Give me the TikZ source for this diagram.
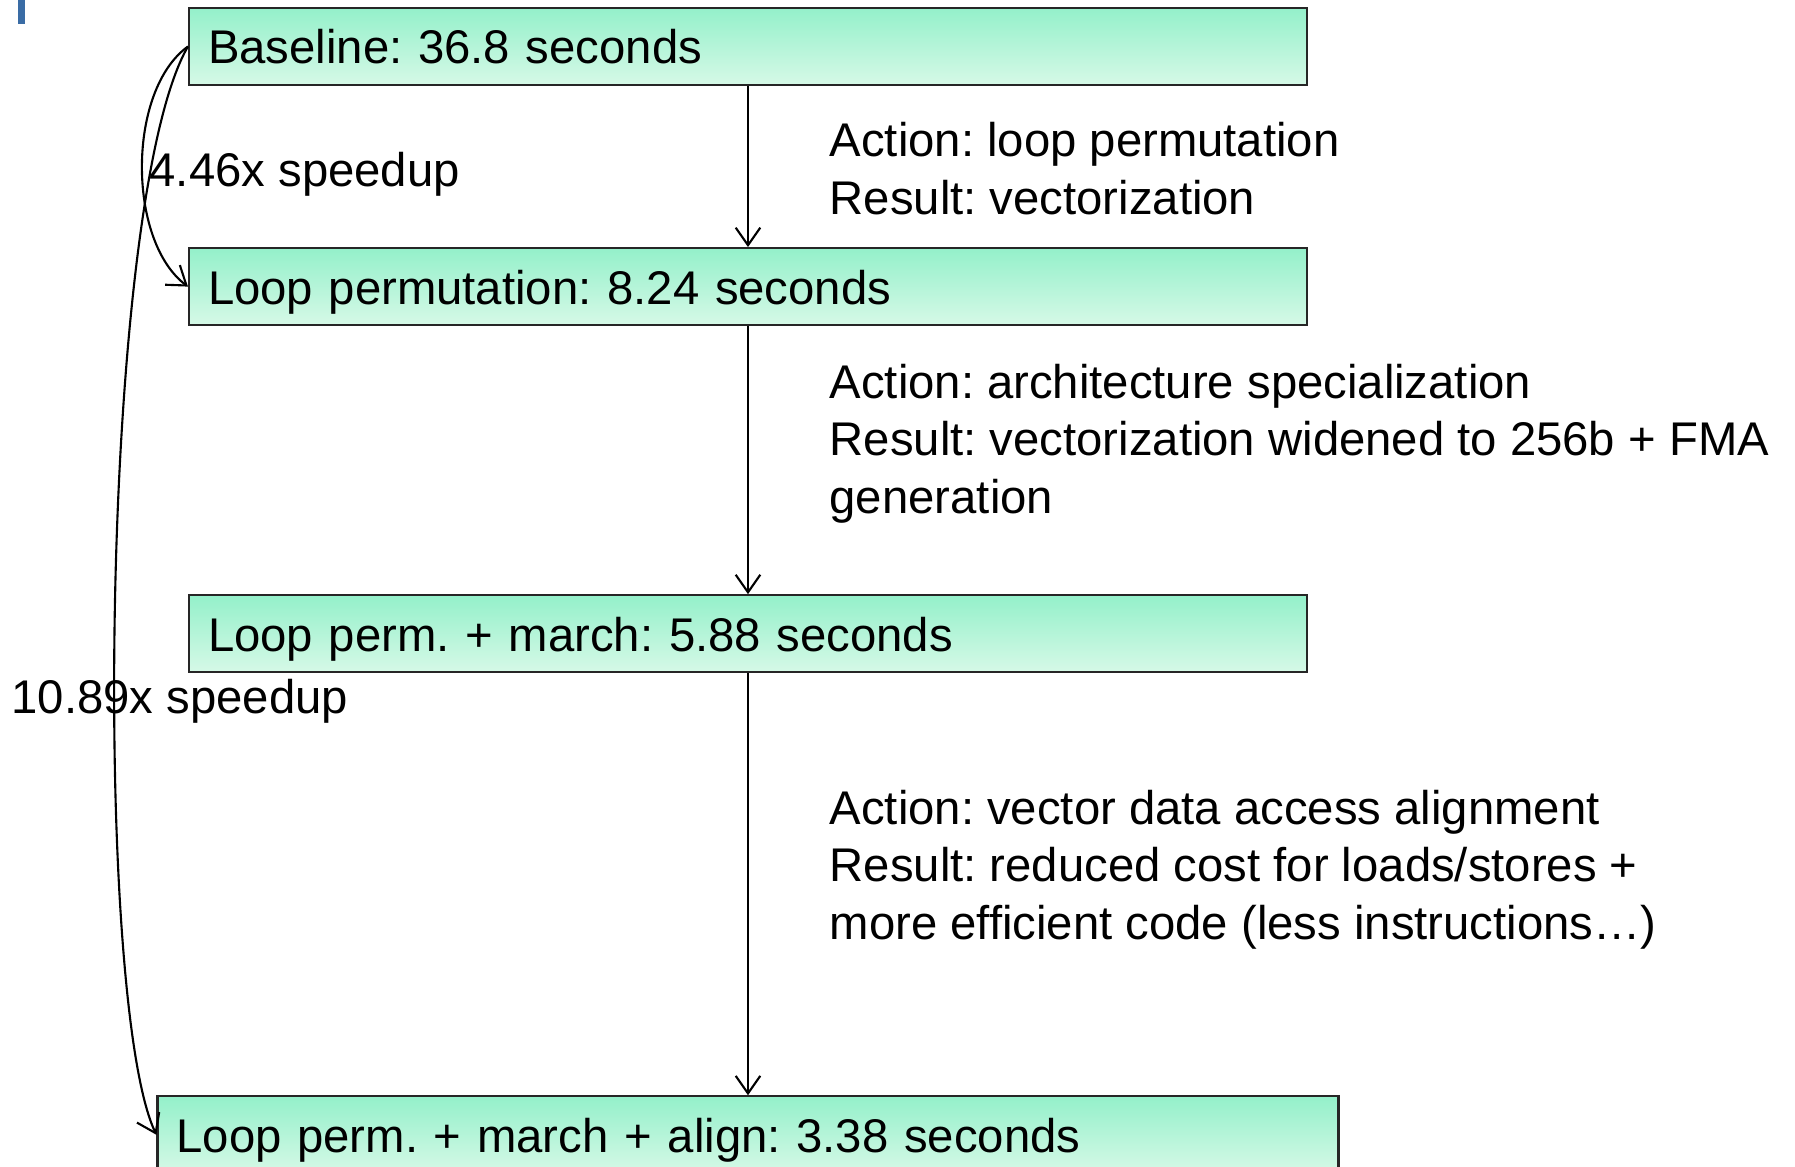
\documentclass[tikz,border=0pt]{standalone}
\usepackage{fontspec}
\setmainfont{Liberation Sans}
\usetikzlibrary{positioning,arrows.meta}
\frenchspacing

\definecolor{mintTop}{RGB}{148,240,202}
\definecolor{mintBot}{RGB}{214,249,231}
\definecolor{slideBlue}{RGB}{58,108,165}
\newcommand{\slidesize}{\fontsize{13.45}{16.4}\selectfont}

\begin{document}
\begin{tikzpicture}[
          box/.style={rectangle, draw=black!85, line width=0.6pt,
              top color=mintTop, bottom color=mintBot,
              text width=10.8cm, text height=0.35cm, text depth=0pt,
              minimum height=0.77cm, inner xsep=0.19cm,
              font=\slidesize, align=left},
          note/.style={anchor=base west, inner sep=0pt, font=\slidesize, align=left},
          arr/.style={-{Straight Barb[length=5pt,width=7pt]}, line width=0.6pt}
        ]
        \useasboundingbox (0,0) rectangle (17.95,-11.67);
        \fill[slideBlue] (0.18,0) rectangle (0.25,-0.24);
        \node[box] (base) at (7.48,-0.465) {Baseline: 36.8 seconds};
        \node[box, below=1.61cm of base]  (perm)  {Loop permutation: 8.24 seconds};
        \node[box, below=2.68cm of perm]  (march) {Loop perm. + march: 5.88 seconds};
        \node[box, below=4.22cm of march, text width=11.43cm] (align) {Loop perm. + march + align: 3.38 seconds};
        \draw[arr] (base)  -- (perm);
        \draw[arr] (perm)  -- (march);
        \draw[arr] (march) -- (align);
        % speedups
        \draw[arr] (base.west) .. controls +(-0.61,-0.44) and +(-0.61,0.46) .. (perm.west);
        \draw[arr] (base.west) .. controls +(-0.89,-1.54) and +(-0.63,1.32) .. (align.west);
        \node[note] (sp1) at (1.49,-1.87) {4.46x speedup};
        \node[note] (sp2) at (0.11,-7.14) {10.89x speedup};
        % actions (base = last line)
        \node[note] (act1) at (8.29,-2.145) {Action: loop permutation\\Result: vectorization};
        \node[note] (act2) at (8.29,-5.135) {Action: architecture specialization\\Result: vectorization widened to 256b + FMA\\generation};
        \node[note] (act3) at (8.29,-9.395) {Action: vector data access alignment\\Result: reduced cost for loads/stores +\\more efficient code (less instructions…)};
      \end{tikzpicture}
\end{document}
